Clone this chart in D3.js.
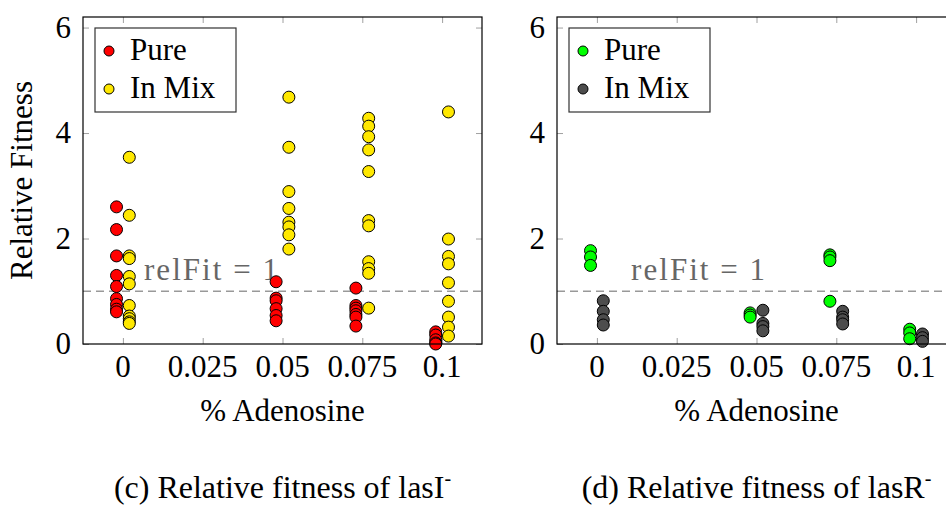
<!DOCTYPE html>
<html>
<head>
<meta charset="utf-8">
<script src="https://cdn.jsdelivr.net/npm/d3@7"></script>
<style>
  body { margin: 0; background: #fff; }
  svg { display: block; font-family: "Liberation Serif", serif; }
</style>
</head>
<body>
<svg id="chart" width="946" height="507"></svg>
<script>
// concentrations with measurements (no data at 0.025)
const groups = [0, 0.05, 0.075, 0.1];
const xTicks = [0, 0.025, 0.05, 0.075, 0.1];
const yTicks = [0, 2, 4, 6];

// lasI- panel
const lasIPure = [
  [2.60, 2.17, 1.67, 1.30, 1.09, 0.86, 0.75, 0.66, 0.61],
  [1.18, 0.87, 0.82, 0.67, 0.54, 0.44],
  [1.06, 0.73, 0.68, 0.63, 0.56, 0.51, 0.34],
  [0.23, 0.17, 0.08, 0.02, 0.0]
];
const lasIMix = [
  [3.54, 2.44, 1.67, 1.62, 1.28, 1.14, 0.73, 0.53, 0.48, 0.42, 0.39],
  [4.68, 3.73, 2.89, 2.57, 2.31, 2.22, 2.07, 1.80],
  [4.28, 4.13, 3.93, 3.68, 3.27, 2.34, 2.24, 1.56, 1.43, 1.34, 0.68],
  [4.40, 1.99, 1.66, 1.52, 1.16, 0.81, 0.51, 0.32, 0.15]
];

// lasR- panel
const lasRPure = [
  [1.77, 1.65, 1.49],
  [0.59, 0.55, 0.51],
  [1.69, 1.65, 1.58, 0.81],
  [0.28, 0.21, 0.10]
];
const lasRMix = [
  [0.82, 0.62, 0.46, 0.36],
  [0.64, 0.39, 0.33, 0.25],
  [0.62, 0.51, 0.46, 0.38],
  [0.19, 0.12, 0.05]
];

const seriesNames = ['Pure', 'In Mix'];
const captions = ['(c) Relative fitness of lasI', '(d) Relative fitness of lasR'];

const svg = d3.select('#chart');
const fontSize = 31;
const jitter = 0.002;

const panels = [
  { left: 83, pure: lasIPure, mix: lasIMix, colors: ['#ff0000', '#ffe800'], caption: captions[0], refX: 0.0276, yLabel: true },
  { left: 557, pure: lasRPure, mix: lasRMix, colors: ['#00ff00', '#4d4d4d'], caption: captions[1], refX: 0.0317, yLabel: false }
];

const plotTop = 17, plotBottom = 344, plotWidth = 399;

panels.forEach(p => {
  const g = svg.append('g');
  const x = d3.scaleLinear().domain([-0.0125, 0.1125]).range([p.left, p.left + plotWidth]);
  const y = d3.scaleLinear().domain([0, 6.2]).range([plotBottom, plotTop]);

  // inward gray ticks on all four sides
  const tickColor = '#a0a0a0';
  const styleTicks = sel => {
    sel.select('.domain').remove();
    sel.selectAll('line').attr('stroke', tickColor);
  };
  g.append('g').attr('transform', `translate(0,${plotBottom})`)
    .call(d3.axisBottom(x).tickValues(xTicks).tickSizeInner(-6).tickSizeOuter(0).tickFormat(''))
    .call(styleTicks);
  g.append('g').attr('transform', `translate(0,${plotTop})`)
    .call(d3.axisTop(x).tickValues(xTicks).tickSizeInner(-6).tickSizeOuter(0).tickFormat(''))
    .call(styleTicks);
  g.append('g').attr('transform', `translate(${p.left},0)`)
    .call(d3.axisLeft(y).tickValues(yTicks).tickSizeInner(-6).tickSizeOuter(0).tickFormat(''))
    .call(styleTicks);
  g.append('g').attr('transform', `translate(${p.left + plotWidth},0)`)
    .call(d3.axisRight(y).tickValues(yTicks).tickSizeInner(-6).tickSizeOuter(0).tickFormat(''))
    .call(styleTicks);

  // tick labels
  g.selectAll('.xl').data(xTicks).enter().append('text')
    .attr('x', d => x(d)).attr('y', plotBottom + 33)
    .attr('text-anchor', 'middle').attr('font-size', fontSize).text(d => String(d));
  g.selectAll('.yl').data(yTicks).enter().append('text')
    .attr('x', p.left - 12).attr('y', d => y(d) + 10)
    .attr('text-anchor', 'end').attr('font-size', fontSize).text(d => String(d));

  // reference line at relFit = 1
  g.append('line')
    .attr('x1', p.left).attr('x2', p.left + plotWidth)
    .attr('y1', y(1)).attr('y2', y(1))
    .attr('stroke', '#999').attr('stroke-width', 1.5).attr('stroke-dasharray', '8,5');
  g.append('text')
    .attr('x', x(p.refX)).attr('y', 280)
    .attr('text-anchor', 'middle').attr('font-size', fontSize).attr('fill', '#666')
    .attr('textLength', 134).attr('lengthAdjust', 'spacing')
    .text('relFit = 1');

  // points
  [p.pure, p.mix].forEach((series, si) => {
    const pts = [];
    series.forEach((vals, gi) => vals.forEach(v => pts.push({ c: groups[gi], v })));
    g.selectAll(null).data(pts).enter().append('circle')
      .attr('cx', d => x(d.c + (si === 0 ? -jitter : jitter)))
      .attr('cy', d => y(d.v))
      .attr('r', 6)
      .attr('fill', p.colors[si])
      .attr('stroke', '#000').attr('stroke-width', 1);
  });

  // frame
  g.append('rect')
    .attr('x', p.left).attr('y', plotTop).attr('width', plotWidth).attr('height', plotBottom - plotTop)
    .attr('fill', 'none').attr('stroke', '#000').attr('stroke-width', 1.2);

  // legend
  const lg = g.append('g').attr('transform', `translate(${p.left + 12},28)`);
  lg.append('rect').attr('width', 141).attr('height', 84)
    .attr('fill', '#fff').attr('stroke', '#333').attr('stroke-width', 1.2);
  seriesNames.forEach((name, i) => {
    lg.append('circle').attr('cx', 14).attr('cy', 23 + i * 38).attr('r', 5)
      .attr('fill', p.colors[i]).attr('stroke', '#000').attr('stroke-width', 1);
    lg.append('text').attr('x', 35).attr('y', 32 + i * 38)
      .attr('font-size', fontSize).text(name);
  });

  // axis titles
  g.append('text')
    .attr('x', p.left + plotWidth / 2).attr('y', 421)
    .attr('text-anchor', 'middle').attr('font-size', fontSize).text('% Adenosine');
  if (p.yLabel) {
    g.append('text')
      .attr('transform', `translate(32,${(plotTop + plotBottom) / 2}) rotate(-90)`)
      .attr('text-anchor', 'middle').attr('font-size', fontSize).text('Relative Fitness');
  }

  // caption with superscript minus
  const cap = g.append('text')
    .attr('x', p.left + plotWidth / 2).attr('y', 498)
    .attr('text-anchor', 'middle').attr('font-size', 32);
  cap.append('tspan').text(p.caption);
  cap.append('tspan').attr('font-size', 20).attr('dy', -13).text('-');
});
</script>
</body>
</html>
